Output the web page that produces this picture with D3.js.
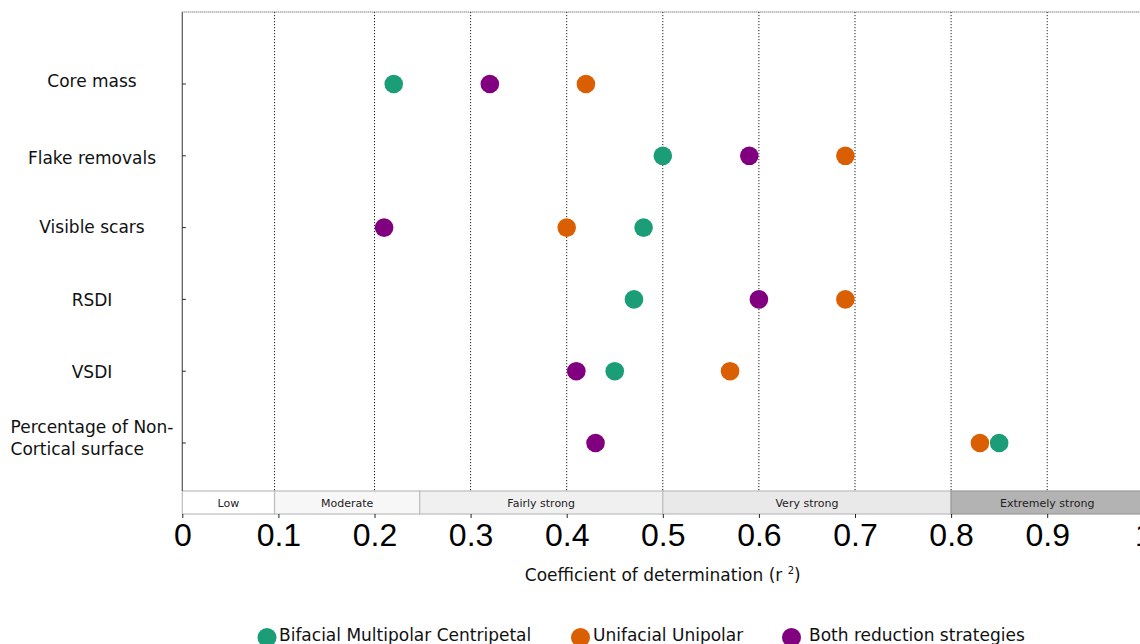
<!DOCTYPE html>
<html>
<head>
<meta charset="utf-8">
<script src="https://cdn.jsdelivr.net/npm/d3@7"></script>
<style>
  html, body { margin: 0; padding: 0; background: #fff; }
  svg { display: block; }
</style>
</head>
<body>
<svg id="chart" width="1140" height="644"></svg>
<script>
// Predictors (rows, top to bottom); "\n" marks a line break in the label
const predictors = [
  "Core mass",
  "Flake removals",
  "Visible scars",
  "RSDI",
  "VSDI",
  "Percentage of Non-\nCortical surface"
];

// r² per predictor, one array per reduction strategy
const bifacialValues = [0.22, 0.50, 0.48, 0.47, 0.45, 0.85];
const unifacialValues = [0.42, 0.69, 0.40, 0.69, 0.57, 0.83];
const bothValues     = [0.32, 0.59, 0.21, 0.60, 0.41, 0.43];

const seriesNames  = ["Bifacial Multipolar Centripetal", "Unifacial Unipolar", "Both reduction strategies"];
const seriesColors = ["#1b9e77", "#d95f02", "#800080"];

// Strength classes along the r² axis
const bandLabels = ["Low", "Moderate", "Fairly strong", "Very strong", "Extremely strong"];
const bandEdges  = [0, 0.096, 0.247, 0.5, 0.8, 1.0];
const bandFills  = ["#ffffff", "#f7f7f7", "#f0f0f0", "#e9e9e9", "#b3b3b3"];

// Axis ticks and vertical reference lines
const xTicks = [0, 0.1, 0.2, 0.3, 0.4, 0.5, 0.6, 0.7, 0.8, 0.9, 1];
const xTickLabels = ["0", "0.1", "0.2", "0.3", "0.4", "0.5", "0.6", "0.7", "0.8", "0.9", "1"];
const gridValues = [0.096, 0.2, 0.3, 0.4, 0.5, 0.6, 0.7, 0.8, 0.9, 1.0];

const svg = d3.select("#chart");
const FONT = "'DejaVu Sans', sans-serif";

const plotTop = 12, bandTop = 491, bandBottom = 514;

const x = d3.scaleLinear().domain([0, 1]).range([182.3, 1143.3]);
const y = d3.scalePoint().domain(predictors).range([84, 443]);

// strength bands
const bands = bandLabels.map((label, i) => ({ label, x0: bandEdges[i], x1: bandEdges[i + 1], fill: bandFills[i] }));
const bandG = svg.append("g");
bandG.selectAll("rect").data(bands).join("rect")
  .attr("x", d => x(d.x0))
  .attr("y", bandTop)
  .attr("width", d => x(d.x1) - x(d.x0))
  .attr("height", bandBottom - bandTop)
  .attr("fill", d => d.fill)
  .attr("stroke", d => d.fill === "#b3b3b3" ? "#999" : "#bdbdbd")
  .attr("stroke-width", 1.2);
bandG.selectAll("text").data(bands).join("text")
  .attr("x", d => (x(d.x0) + x(d.x1)) / 2)
  .attr("y", (bandTop + bandBottom) / 2 + 4)
  .attr("text-anchor", "middle")
  .attr("font-family", FONT)
  .attr("font-size", 11)
  .attr("fill", "#222")
  .text(d => d.label);
// keep the last band label centred where it sits on screen
bandG.selectAll("text").filter(d => d.label === "Extremely strong")
  .attr("x", x(0.9));

// dotted vertical reference lines
svg.append("g").selectAll("line").data(gridValues).join("line")
  .attr("x1", d => x(d)).attr("x2", d => x(d))
  .attr("y1", plotTop).attr("y2", bandTop)
  .attr("stroke", "#222")
  .attr("stroke-width", 1)
  .attr("stroke-dasharray", "1.2,1.8");

// dotted top border
svg.append("line")
  .attr("x1", x(0)).attr("x2", 1140)
  .attr("y1", plotTop).attr("y2", plotTop)
  .attr("stroke", "#444")
  .attr("stroke-width", 1.2)
  .attr("stroke-dasharray", "1,1");

// left axis
svg.append("line")
  .attr("x1", x(0)).attr("x2", x(0))
  .attr("y1", plotTop).attr("y2", bandTop)
  .attr("stroke", "#555")
  .attr("stroke-width", 1.2);
svg.append("g").selectAll("line").data(predictors).join("line")
  .attr("x1", x(0)).attr("x2", x(0) + 3.5)
  .attr("y1", d => y(d)).attr("y2", d => y(d))
  .attr("stroke", "#222");

// predictor labels: each label is a left-aligned block centred on x = 92,
// nudged vertically a little per row
const labelNudge = [-3, 2.5, -1, 1, 0.5, -5];
const labelG = svg.append("g")
  .attr("font-family", FONT)
  .attr("font-size", 17)
  .attr("fill", "#111");
predictors.forEach((p, k) => {
  const lines = p.split("\n");
  const lh = 21.5;
  const t = labelG.append("text");
  lines.forEach((ln, i) => {
    t.append("tspan")
      .attr("y", y(p) + 6 + labelNudge[k] + (i - (lines.length - 1) / 2) * lh)
      .text(ln);
  });
  const widths = [];
  t.selectAll("tspan").each(function () { widths.push(this.getComputedTextLength()); });
  const w = d3.max(widths);
  t.selectAll("tspan").attr("x", 92 - w / 2);
});

// bottom axis
const xAxis = d3.axisBottom(x)
  .tickValues(xTicks)
  .tickFormat((d, i) => xTickLabels[i])
  .tickSize(4)
  .tickPadding(4);
const axG = svg.append("g")
  .attr("transform", `translate(0,${bandBottom})`)
  .call(xAxis);
axG.select(".domain").remove();
axG.selectAll(".tick line").attr("stroke", "#222");
axG.selectAll(".tick text")
  .attr("font-family", "'Liberation Sans', Arial, sans-serif")
  .attr("font-size", 32)
  .attr("fill", "#000")
  .attr("dy", null)
  .attr("y", 32);

// axis title with superscript
const title = svg.append("text")
  .attr("x", x(0.5))
  .attr("y", 581)
  .attr("text-anchor", "middle")
  .attr("font-family", FONT)
  .attr("font-size", 17)
  .attr("fill", "#111");
title.append("tspan").text("Coefficient of determination (r ");
title.append("tspan").attr("font-size", 10).attr("dy", -7).text("2");
title.append("tspan").attr("dy", 7).text(")");

// points
const seriesValues = [bifacialValues, unifacialValues, bothValues];
const points = [];
seriesValues.forEach((vals, s) => {
  vals.forEach((v, i) => points.push({ predictor: predictors[i], value: v, series: s }));
});
svg.append("g").selectAll("circle").data(points).join("circle")
  .attr("cx", d => x(d.value))
  .attr("cy", d => y(d.predictor))
  .attr("r", 9.3)
  .attr("fill", d => seriesColors[d.series]);

// legend
const legendX = [267, 580.5, 791.5];
const legendTextX = [279, 593, 809];
const lg = svg.append("g");
seriesNames.forEach((name, i) => {
  lg.append("circle")
    .attr("cx", legendX[i]).attr("cy", 637.5).attr("r", 9.5)
    .attr("fill", seriesColors[i]);
  lg.append("text")
    .attr("x", legendTextX[i]).attr("y", 641)
    .attr("font-family", FONT)
    .attr("font-size", 17)
    .attr("fill", "#111")
    .text(name);
});
</script>
</body>
</html>
